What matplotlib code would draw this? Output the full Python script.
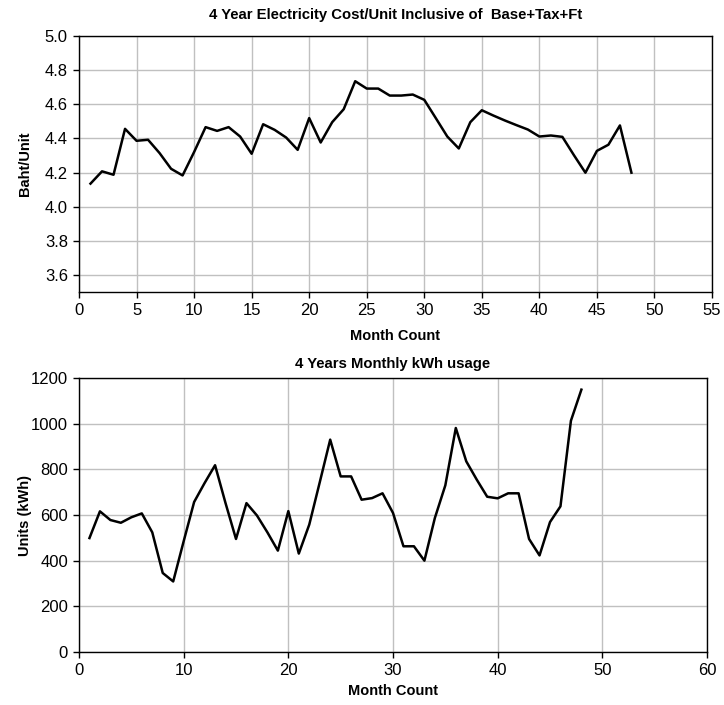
import matplotlib
matplotlib.use("Agg")
from matplotlib import pyplot as plt

# month index for both series
months = list(range(1, 49))

# Baht per unit (Base + Tax + Ft)
cost_per_unit = [4.135, 4.207, 4.187, 4.456, 4.386, 4.392, 4.314, 4.222, 4.183, 4.32,
                 4.466, 4.444, 4.466, 4.411, 4.31, 4.483, 4.45, 4.405, 4.333, 4.519,
                 4.376, 4.495, 4.571, 4.735, 4.692, 4.692, 4.651, 4.651, 4.657, 4.626,
                 4.519, 4.411, 4.341, 4.495, 4.565, 4.534, 4.505, 4.478, 4.452, 4.411,
                 4.417, 4.409, 4.302, 4.199, 4.327, 4.363, 4.476, 4.199]

# monthly kWh
kwh_usage = [499, 616, 578, 566, 590, 607, 524, 346, 309, 485,
             657, 740, 818, 652, 495, 652, 598, 524, 444, 617,
             431, 558, 743, 930, 769, 769, 667, 674, 695, 609,
             463, 463, 400, 587, 730, 981, 835, 755, 680, 673,
             695, 695, 495, 423, 569, 638, 1013, 1149]

plt.rcParams['font.family'] = ['Liberation Sans', 'DejaVu Sans']

fig = plt.figure(figsize=(7.24, 7.05), dpi=100)
W, H = 724, 705

def style(ax):
    ax.grid(True, color='#c0c0c0', linewidth=1)
    ax.set_axisbelow(True)
    for s in ax.spines.values():
        s.set_color('black')
        s.set_linewidth(1)
    ax.tick_params(direction='out', length=4, width=1, labelsize=12, colors='black', pad=4)

# top chart
ax1 = fig.add_axes([79/W, 1-292/H, (712-79)/W, (292-36)/H])
ax1.plot(months, cost_per_unit, color='black', linewidth=1.8)
ax1.set_xlim(0, 55)
ax1.set_ylim(3.5, 5.0)
ax1.set_xticks(range(0, 56, 5))
ax1.set_yticks([3.6, 3.8, 4.0, 4.2, 4.4, 4.6, 4.8, 5.0])
ax1.set_yticklabels(['%.1f' % v for v in [3.6, 3.8, 4.0, 4.2, 4.4, 4.6, 4.8, 5.0]])
ax1.set_title('4 Year Electricity Cost/Unit Inclusive of  Base+Tax+Ft',
              fontsize=10.7, fontweight='bold', pad=12)
ax1.set_xlabel('Month Count', fontsize=10.5, fontweight='bold', labelpad=8)
ax1.set_ylabel('Baht/Unit', fontsize=10.5, fontweight='bold')
ax1.yaxis.set_label_coords((32-79)/633, 0.5)
style(ax1)

# bottom chart
ax2 = fig.add_axes([79/W, 1-652/H, (707-79)/W, (652-378)/H])
ax2.plot(months, kwh_usage, color='black', linewidth=1.8)
ax2.set_xlim(0, 60)
ax2.set_ylim(0, 1200)
ax2.set_xticks(range(0, 61, 10))
ax2.set_yticks(range(0, 1201, 200))
ax2.set_title('4 Years Monthly kWh usage', fontsize=10.7, fontweight='bold', pad=7)
ax2.set_xlabel('Month Count', fontsize=10.5, fontweight='bold', labelpad=4)
ax2.set_ylabel('Units (kWh)', fontsize=10.5, fontweight='bold')
ax2.yaxis.set_label_coords((32-79)/628, 0.5)
style(ax2)

fig.savefig('out.png', dpi=100, facecolor='white')
